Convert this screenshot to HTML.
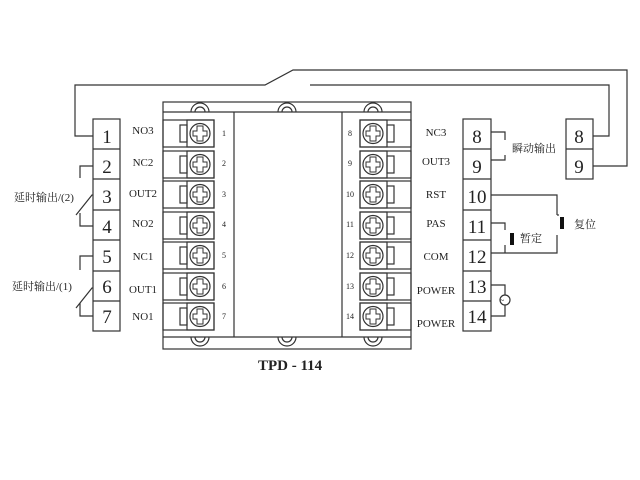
<!DOCTYPE html>
<html><head><meta charset="utf-8"><style>html,body{margin:0;padding:0;background:#fff}svg{display:block}</style></head><body>
<svg width="640" height="480" viewBox="0 0 640 480" xmlns="http://www.w3.org/2000/svg" font-family="'Liberation Serif','Noto Serif CJK SC',serif" fill="none" stroke="#333" stroke-width="1.2">
<!-- top wires -->
<polyline points="93,136 75,136 75,85 265,85 293,70 627,70 627,166 593,166"/>
<polyline points="310,85 609,85 609,136 593,136"/>
<!-- body -->
<rect x="163" y="102" width="248" height="247"/>
<line x1="163" y1="112" x2="411" y2="112"/>
<line x1="163" y1="337" x2="411" y2="337"/>
<line x1="234" y1="112" x2="234" y2="337"/>
<line x1="342" y1="112" x2="342" y2="337"/>
<g>
<path d="M191,112 A9,9 0 0 1 209,112"/><path d="M195,112 A5,5 0 0 1 205,112"/>
<path d="M278,112 A9,9 0 0 1 296,112"/><path d="M282,112 A5,5 0 0 1 292,112"/>
<path d="M364,112 A9,9 0 0 1 382,112"/><path d="M368,112 A5,5 0 0 1 378,112"/>
<path d="M191,337 A9,9 0 0 0 209,337"/><path d="M195,337 A5,5 0 0 0 205,337"/>
<path d="M278,337 A9,9 0 0 0 296,337"/><path d="M282,337 A5,5 0 0 0 292,337"/>
<path d="M364,337 A9,9 0 0 0 382,337"/><path d="M368,337 A5,5 0 0 0 378,337"/>
</g>
<defs>
<g id="tl">
<rect x="163" y="0" width="51" height="27"/>
<rect x="187" y="0" width="27" height="27"/>
<rect x="180" y="5" width="7" height="17"/>
<circle cx="200" cy="13.5" r="10"/>
<path d="M197,6 h6 v5 h4 v5 h-4 v5 h-6 v-5 h-4 v-5 h4z" stroke-width="1"/>
</g>
<g id="tr">
<rect x="360" y="0" width="51" height="27"/>
<rect x="360" y="0" width="27" height="27"/>
<rect x="387" y="5" width="7" height="17"/>
<circle cx="373" cy="13.5" r="10"/>
<path d="M370,6 h6 v5 h4 v5 h-4 v5 h-6 v-5 h-4 v-5 h4z" stroke-width="1"/>
</g>
</defs>
<use href="#tl" y="120"/><use href="#tl" y="151"/><use href="#tl" y="181"/><use href="#tl" y="212"/><use href="#tl" y="242"/><use href="#tl" y="273"/><use href="#tl" y="303"/>
<use href="#tr" y="120"/><use href="#tr" y="151"/><use href="#tr" y="181"/><use href="#tr" y="212"/><use href="#tr" y="242"/><use href="#tr" y="273"/><use href="#tr" y="303"/>
<!-- terminal blocks -->
<rect x="93" y="119" width="27" height="212"/>
<path d="M93,149h27M93,179h27M93,210h27M93,240h27M93,271h27M93,301h27"/>
<rect x="463" y="119" width="28" height="212"/>
<path d="M463,149h28M463,179h28M463,210h28M463,240h28M463,271h28M463,301h28"/>
<rect x="566" y="119" width="27" height="60"/>
<path d="M566,149h27"/>
<!-- left switches -->
<polyline points="80,178 80,166 93,166"/>
<polyline points="76,215 92,195 93,195"/>
<polyline points="80,213 80,226 93,226"/>
<polyline points="80,270 80,256 93,256"/>
<polyline points="76,308 92,288 93,288"/>
<polyline points="80,303 80,316 93,316"/>
<!-- right connections -->
<polyline points="491,132 505,132 505,140"/>
<polyline points="505,155 505,160 491,160"/>
<polyline points="491,195 557,195 557,215"/>
<polyline points="557,235 557,253 491,253"/>
<polyline points="491,223 505,223 505,230"/>
<polyline points="505,245 505,253"/>
<polyline points="491,285 505,285 505,295"/>
<circle cx="505" cy="300" r="5"/>
<polyline points="505,305 505,316 491,316"/>
<g fill="#111" stroke="none">
<rect x="560" y="217" width="4" height="12"/>
<rect x="510" y="233" width="4" height="12"/>
</g>
<line x1="557" y1="215" x2="559" y2="215"/>
<path d="M505,230 L509,232M505,245 L509,245" stroke-width="0"/>
<g fill="#222" stroke="none">
<text x="1" y="0" font-size="0"></text>
<g font-size="19" text-anchor="middle">
<text x="107" y="143">1</text><text x="107" y="173">2</text><text x="107" y="203">3</text><text x="107" y="233">4</text><text x="107" y="263">5</text><text x="107" y="293">6</text><text x="107" y="323">7</text>
<text x="477" y="143">8</text><text x="477" y="173">9</text><text x="477" y="203">10</text><text x="477" y="233">11</text><text x="477" y="263">12</text><text x="477" y="293">13</text><text x="477" y="323">14</text>
<text x="579" y="143">8</text><text x="579" y="173">9</text>
</g>
<g font-size="11" text-anchor="middle">
<text x="143" y="134">NO3</text><text x="143" y="166">NC2</text><text x="143" y="197">OUT2</text><text x="143" y="227">NO2</text><text x="143" y="260">NC1</text><text x="143" y="293">OUT1</text><text x="143" y="320">NO1</text>
<text x="436" y="136">NC3</text><text x="436" y="165">OUT3</text><text x="436" y="198">RST</text><text x="436" y="227">PAS</text><text x="436" y="260">COM</text><text x="436" y="294">POWER</text><text x="436" y="327">POWER</text>
</g>
<g font-size="8" text-anchor="middle">
<text x="224" y="136">1</text><text x="224" y="166">2</text><text x="224" y="197">3</text><text x="224" y="227">4</text><text x="224" y="258">5</text><text x="224" y="289">6</text><text x="224" y="319">7</text>
<text x="350" y="136">8</text><text x="350" y="166">9</text><text x="350" y="197">10</text><text x="350" y="227">11</text><text x="350" y="258">12</text><text x="350" y="289">13</text><text x="350" y="319">14</text>
</g>
<g font-size="11">
<text x="14" y="201">延时输出/(2)</text>
<text x="12" y="290">延时输出/(1)</text>
<text x="512" y="152">瞬动输出</text>
<text x="520" y="242">暂定</text>
<text x="574" y="228">复位</text>
</g>
<text x="258" y="370" font-size="15" font-weight="bold">TPD - 114</text>
<text x="502" y="303" font-size="8" text-anchor="middle">~</text>
</g>
</svg>
</body></html>
